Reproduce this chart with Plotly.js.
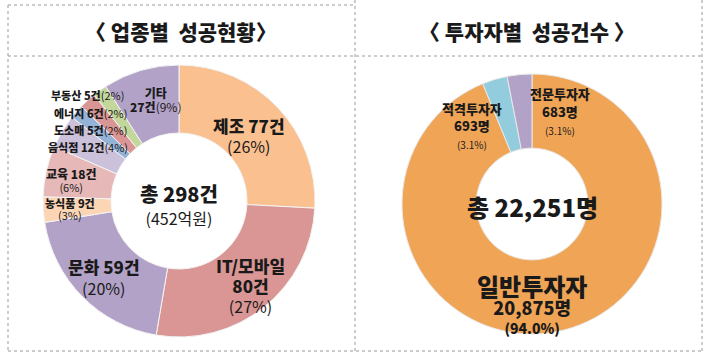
<!DOCTYPE html>
<html><head><meta charset="utf-8">
<script src="https://cdn.plot.ly/plotly-3.0.1.min.js"></script>
<style>html,body{margin:0;padding:0;background:#fff}</style>
</head><body><div id="chart" style="width:709px;height:359px"></div>
<script>
// ---- data ----
const industryNames = ['제조','IT/모바일','문화','농식품','교육','음식점','도소매','에너지','부동산','기타'];
const industryCounts = [77, 80, 59, 9, 18, 12, 5, 6, 5, 27];
const industryPct = [26, 27, 20, 3, 6, 4, 2, 2, 2, 9];
const industryTotal = 298;
const industryAmount = '452억원';

const investorNames = ['일반투자자','적격투자자','전문투자자'];
const investorCounts = [20875, 693, 683];
const investorPct = ['94.0', '3.1', '3.1'];
const investorTotal = 22251;

const titleLeft = '〈 업종별  성공현황〉';
const titleRight = '〈 투자자별  성공건수 〉';

// ---- style ----
const industryColors = ['#FAC090','#D99694','#B3A2C7','#FCD5B5','#E6B9B8','#CCC1DA','#95B3D7','#D99694','#C3D69B','#B3A2C7'];
const investorColors = ['#F0A556','#93CDDD','#B3A2C7'];
const W = 709, H = 359;
const px = x => x / W, py = y => 1 - y / H;
const FONT = '"Noto Sans CJK KR", "Noto Sans", sans-serif';
const fmt = n => n.toLocaleString('en-US');
const B = (t, s) => '<span style="font-size:' + s + 'px;font-weight:900">' + t + '</span>';
const N = (t, s) => '<span style="font-size:' + s + 'px">' + t + '</span>';

const traces = [
  {type:'pie', values: industryCounts, labels: industryNames, sort:false, direction:'clockwise', rotation:0,
   hole:0.5, textinfo:'none', hoverinfo:'label+value', showlegend:false,
   marker:{colors: industryColors, line:{color:'#f4f4f4', width:1}},
   domain:{x:[px(43), px(315)], y:[py(337), py(65)]}},
  {type:'pie', values: investorCounts, labels: investorNames, sort:false, direction:'clockwise', rotation:0,
   hole:0.43, textinfo:'none', hoverinfo:'label+value', showlegend:false,
   marker:{colors: investorColors, line:{color:'#e8e8e8', width:1}},
   domain:{x:[px(402), px(662)], y:[py(334), py(74)]}}
];

const ann = [];
function add(x, y, lines, base) {
  ann.push({x: px(x), y: py(y), xref:'paper', yref:'paper', text: lines.join('<br>'), showarrow:false,
    font:{family: FONT, size: base, color:'#1a1a1a'}, xanchor:'center', yanchor:'middle', align:'center'});
}
// titles
add(181, 31, [B(titleLeft, 21)], 21);
add(527, 31, [B(titleRight, 21)], 21);
// center texts
add(179, 204, [B('총 ' + industryTotal + '건', 20), N('(' + industryAmount + ')', 16)], 18);
add(532, 207, [B('총 ' + fmt(investorTotal) + '명', 24)], 24);

// industry labels
const i = industryNames, c = industryCounts, p = industryPct;
add(249, 135, [B(i[0] + ' ' + c[0] + '건', 17), N('(' + p[0] + '%)', 16)], 15.5);
add(250, 285, [B(i[1], 17), B(c[1] + '건', 17), N('(' + p[1] + '%)', 16)], 15.5);
add(104, 277, [B(i[2] + ' ' + c[2] + '건', 17), N('(' + p[2] + '%)', 16)], 16);
add(70, 209, [B(i[3] + ' ' + c[3] + '건', 11), N('(' + p[3] + '%)', 11)], 9.5);
add(71, 179.5, [B(i[4] + ' ' + c[4] + '건', 12), N('(' + p[4] + '%)', 11)], 10);
const smallPos = [[88,147],[90,130],[90,113],[87,95]];
[5,6,7,8].forEach((k, j) => {
  add(smallPos[j][0], smallPos[j][1], [B(i[k] + ' ' + c[k] + '건', 11) + N('(' + p[k] + '%)', 11)], 11);
});
add(155, 99, [B(i[9], 12), B(c[9] + '건', 12) + N('(' + p[9] + '%)', 12)], 11);

// investor labels
add(532, 303, [B(investorNames[0], 24), B(fmt(investorCounts[0]) + '명', 18), B('(' + investorPct[0] + '%)', 14)], 14.5);
add(472, 125.5, [B(investorNames[1], 13), B(fmt(investorCounts[1]) + '명', 13), N('(' + investorPct[1] + '%)', 10)], 13.3);
add(560, 111.5, [B(investorNames[2], 13), B(fmt(investorCounts[2]) + '명', 13), N('(' + investorPct[2] + '%)', 10)], 14);

const dot = {color:'#9a9a9a', width:1, dash:'dot'};
const shapes = [
  {type:'line', xref:'paper', yref:'paper', x0:px(8), x1:px(355), y0:py(5), y1:py(5), line:dot},
  {type:'line', xref:'paper', yref:'paper', x0:px(8), x1:px(8), y0:py(5), y1:py(351), line:dot},
  {type:'line', xref:'paper', yref:'paper', x0:px(355), x1:px(355), y0:py(0), y1:py(351), line:dot},
  {type:'line', xref:'paper', yref:'paper', x0:px(702), x1:px(702), y0:py(0), y1:py(351), line:dot},
  {type:'line', xref:'paper', yref:'paper', x0:px(8), x1:px(702), y0:py(56), y1:py(56), line:dot},
  {type:'line', xref:'paper', yref:'paper', x0:px(8), x1:px(702), y0:py(351), y1:py(351), line:dot}
];

Plotly.newPlot('chart', traces, {
  width: W, height: H, margin:{l:0,r:0,t:0,b:0},
  paper_bgcolor:'#fff', plot_bgcolor:'#fff',
  font:{family: FONT},
  annotations: ann, shapes: shapes
}, {displayModeBar:false, staticPlot:true});
</script></body></html>
